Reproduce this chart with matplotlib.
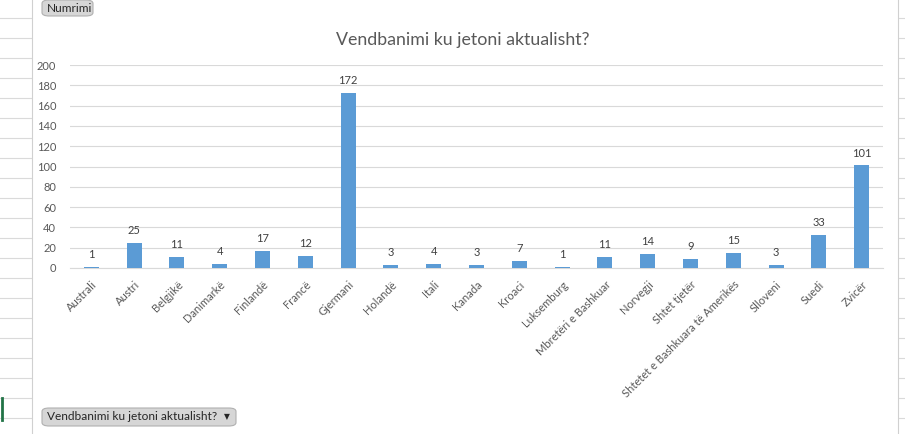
import matplotlib
matplotlib.use("Agg")
import matplotlib.pyplot as plt
from matplotlib.patches import FancyBboxPatch
from matplotlib.lines import Line2D

countries = ["Australi", "Austri", "Belgjikë", "Danimarkë", "Finlandë", "Francë",
             "Gjermani", "Holandë", "Itali", "Kanada", "Kroaci", "Luksemburg",
             "Mbretëri e Bashkuar", "Norvegji", "Shtet tjetër",
             "Shtetet e Bashkuara të Amerikës", "Slloveni", "Suedi", "Zvicër"]
counts = [1, 25, 11, 4, 17, 12, 172, 3, 4, 3, 7, 1, 11, 14, 9, 15, 3, 33, 101]
y_ticks = [0, 20, 40, 60, 80, 100, 120, 140, 160, 180, 200]

title = "Vendbanimi ku jetoni aktualisht?"
field_button = "Numrimi"
axis_button = "Vendbanimi ku jetoni aktualisht?"

plt.rcParams["font.family"] = ["Lato", "DejaVu Sans"]
TXT = "#595959"
W, H = 905, 434

fig = plt.figure(figsize=(W / 100, H / 100), dpi=100)
fig.patch.set_facecolor("white")

# spreadsheet cells around the chart
for y in range(18, H, 20):
    fig.add_artist(Line2D([0, 31 / W], [1 - y / H] * 2, color="#dadada", lw=0.8))
    fig.add_artist(Line2D([899 / W, 1], [1 - y / H] * 2, color="#dadada", lw=0.8))
fig.add_artist(Line2D([32 / W] * 2, [0, 1], color="#d0d0d0", lw=0.8))
fig.add_artist(Line2D([898 / W] * 2, [0, 1], color="#d0d0d0", lw=0.8))
fig.add_artist(Line2D([1.5 / W] * 2, [1 - 398 / H, 1 - 420 / H], color="#217346", lw=2))

ax = fig.add_axes([70 / W, 166 / H, 813 / W, 203 / H])
x = range(len(countries))
bars = ax.bar(x, counts, width=0.35, color="#5b9bd5", zorder=3)
for b, v in zip(bars, counts):
    ax.annotate(str(v), (b.get_x() + b.get_width() / 2, v), xytext=(0, 5),
                textcoords="offset points", ha="center", va="bottom",
                fontsize=8, color="#404040")

ax.set_xlim(-0.5, len(countries) - 0.5)
ax.set_ylim(0, 200)
ax.set_yticks(y_ticks)
ax.yaxis.grid(True, color="#d9d9d9", lw=0.8, zorder=0)
ax.set_xticks(list(x))
ax.set_xticklabels(countries, rotation=45, ha="right", rotation_mode="anchor",
                   fontsize=8, color=TXT)
ax.tick_params(axis="y", labelsize=8, labelcolor=TXT, length=0, pad=10)
ax.tick_params(axis="x", length=0, pad=8)
for s in ["top", "right", "left"]:
    ax.spines[s].set_visible(False)
ax.spines["bottom"].set_color("#d9d9d9")

fig.text(463 / W, 1 - 40 / H, title, ha="center", va="center",
         fontsize=12.8, color=TXT)

# pivot field buttons
def button(x0, y0, w, h, label, arrow=False):
    box = FancyBboxPatch((x0 / W, 1 - (y0 + h) / H), w / W, h / H,
                         boxstyle="round,pad=0,rounding_size=0.008",
                         transform=fig.transFigure, facecolor="#d6d6d6",
                         edgecolor="#b0b0b0", lw=0.8)
    fig.add_artist(box)
    fig.text((x0 + 5) / W, 1 - (y0 + h / 2) / H, label, ha="left", va="center",
             fontsize=8.6, color="#262626")
    if arrow:
        fig.text((x0 + w - 9) / W, 1 - (y0 + h / 2) / H, "\u25BC", ha="center",
                 va="center", fontsize=5.5, color="#262626",
                 family="DejaVu Sans")

button(42, 0, 51, 16, field_button)
button(42, 408, 194, 18, axis_button, arrow=True)

fig.savefig("out.png", dpi=100)
